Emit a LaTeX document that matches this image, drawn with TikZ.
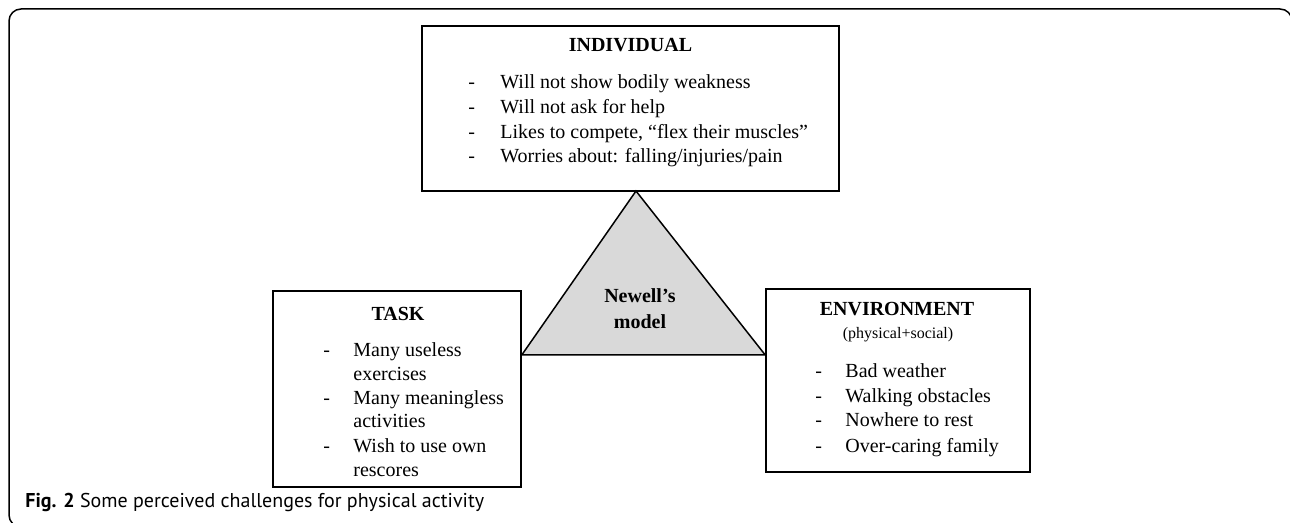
\documentclass[tikz,border=0pt]{standalone}
\usepackage{fontspec}
\setmainfont{Liberation Serif}
\newfontfamily\capfont{PT Sans}
\begin{document}
\begin{tikzpicture}[x=0.5pt, y=-0.5pt,
	box/.style={draw, line width=0.75pt, inner sep=0pt},
	boxtitle/.style={font=\bfseries\fontsize{10}{12}\selectfont, inner sep=0pt},
	item/.style={anchor=base west, inner sep=0pt, font=\fontsize{10}{12}\selectfont},
	frame/.style={line width=0.75pt, rounded corners=6pt}]
	
	% Fix the page to the size of the reference
	\useasboundingbox (0,0) rectangle (1290,523);
	\clip (0,0) rectangle (1290,523);
	
	% Draw the outer figure frame
	\draw[frame] (1292,560) -- (1292,9) -- (9,9) -- (9,527) -- (60,527);
	
	% Draw the three boxes of the model
	\node[box, minimum width=208.5pt, minimum height=82.5pt] (indiv) at (630.5,108.5) {};
	\node[box, minimum width=124pt, minimum height=98pt] (task) at (397,389) {};
	\node[box, minimum width=132pt, minimum height=91.5pt] (env) at (898,380.5) {};
	
	% Draw the triangle between the boxes
	\coordinate (apex) at (636,191);
	\coordinate (baseL) at (task.east |- 0,355);
	\coordinate (baseR) at (env.west |- 0,355);
	\draw[line width=0.75pt, fill=black!15] (apex) -- (baseL) -- (baseR) -- cycle;
	\node[boxtitle, align=center, font=\bfseries\fontsize{10}{13}\selectfont] (model) at (640,309) {Newell’s\\model};
	
	% Titles of the boxes
	\node[boxtitle] (indivT) at (indiv.center |- 0,45) {INDIVIDUAL};
	\node[boxtitle] (taskT) at (398,314) {TASK};
	\node[boxtitle] (envT) at (897,309) {ENVIRONMENT};
	\node[inner sep=0pt, font=\fontsize{8}{10}\selectfont] (envS) at (898,335) {(physical+social)};
	
	% Items of the individual
	\foreach \y/\t in {89/Will not show bodily weakness, 114/Will not ask for help,
		139/{Likes to compete, “flex their muscles”}, 163/{Worries about: falling/injuries/pain}}{
		\node[item] at (468,\y) {-};
		\node[item] at (500,\y) {\t};
	}
	
	% Items of the task (some run over two lines)
	\foreach \y in {357, 405, 452}
		\node[item] at (323,\y) {-};
	\foreach \y/\t in {357/Many useless, 381/exercises, 405/Many meaningless,
		428/activities, 452/Wish to use own, 476/rescores}
		\node[item] at (353,\y) {\t};
	
	% Items of the environment
	\foreach \y/\t in {378/Bad weather, 402/Walking obstacles, 427/Nowhere to rest, 452/Over-caring family}{
		\node[item] at (815,\y) {-};
		\node[item] at (845,\y) {\t};
	}
	
	% Caption
	\node[anchor=base west, inner sep=0pt, font=\capfont\fontsize{10}{12}\selectfont] (caption) at (25,507)
		{\textbf{Fig. 2} Some perceived challenges for physical activity};
	
\end{tikzpicture}
\end{document}
